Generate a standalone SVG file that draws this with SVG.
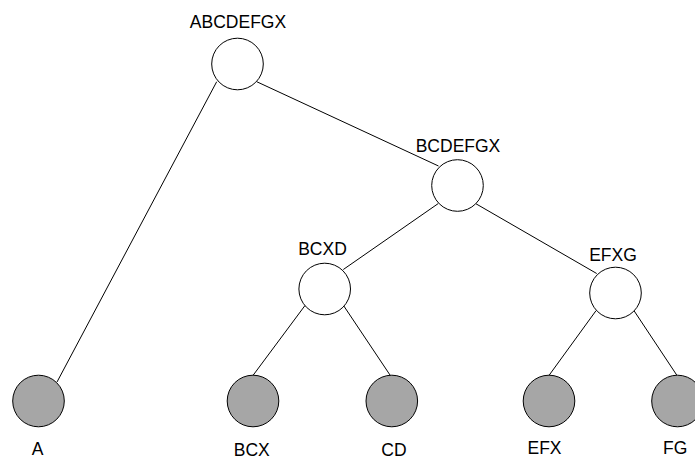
<svg xmlns="http://www.w3.org/2000/svg" width="695" height="460" viewBox="0 0 695 460">
  <style>
    .edge { stroke: #000; stroke-width: 1; fill: none; }
    .inner { fill: #ffffff; stroke: #000; stroke-width: 1; }
    .leaf { fill: #a6a6a6; stroke: #000; stroke-width: 1; }
    .lbl { font-family: "Liberation Sans", Arial, sans-serif; font-size: 17.5px; fill: #000; text-anchor: middle; }
  </style>
  <rect width="695" height="460" fill="#ffffff"/>

  <g id="connectors">
    <line class="edge" x1="216.7" y1="81.7" x2="57" y2="382"/>
    <line class="edge" x1="256.7" y1="81.7" x2="438.5" y2="166"/>
    <line class="edge" x1="438.3" y1="203.5" x2="343.3" y2="269.5"/>
    <line class="edge" x1="475.5" y1="203.5" x2="596.7" y2="273.5"/>
    <line class="edge" x1="305" y1="305.5" x2="253.3" y2="375"/>
    <line class="edge" x1="343.5" y1="305.5" x2="390" y2="375"/>
    <line class="edge" x1="596" y1="310.7" x2="549.3" y2="375"/>
    <line class="edge" x1="634" y1="310.7" x2="676.7" y2="375"/>
  </g>

  <g id="node-ABCDEFGX">
    <circle class="inner" cx="237.5" cy="64" r="25.8"/>
    <text class="lbl" x="238" y="28.3">ABCDEFGX</text>
  </g>
  <g id="node-BCDEFGX">
    <circle class="inner" cx="457.5" cy="185.5" r="25.8"/>
    <text class="lbl" x="458" y="151.5">BCDEFGX</text>
  </g>
  <g id="node-BCXD">
    <circle class="inner" cx="324.7" cy="289" r="25.8"/>
    <text class="lbl" x="322.5" y="255">BCXD</text>
  </g>
  <g id="node-EFXG">
    <circle class="inner" cx="615.5" cy="293" r="25.8"/>
    <text class="lbl" x="613" y="260.5">EFXG</text>
  </g>
  <g id="node-A">
    <circle class="leaf" cx="38.5" cy="401" r="25.8"/>
    <text class="lbl" x="37.5" y="454.5">A</text>
  </g>
  <g id="node-BCX">
    <circle class="leaf" cx="253" cy="401" r="25.8"/>
    <text class="lbl" x="251.7" y="456">BCX</text>
  </g>
  <g id="node-CD">
    <circle class="leaf" cx="391.8" cy="401" r="25.8"/>
    <text class="lbl" x="394" y="456">CD</text>
  </g>
  <g id="node-EFX">
    <circle class="leaf" cx="549" cy="401" r="25.8"/>
    <text class="lbl" x="544.5" y="454.3">EFX</text>
  </g>
  <g id="node-FG">
    <circle class="leaf" cx="677.5" cy="401" r="25.8"/>
    <text class="lbl" x="663" y="454.3" style="text-anchor:start">FG</text>
  </g>
</svg>
